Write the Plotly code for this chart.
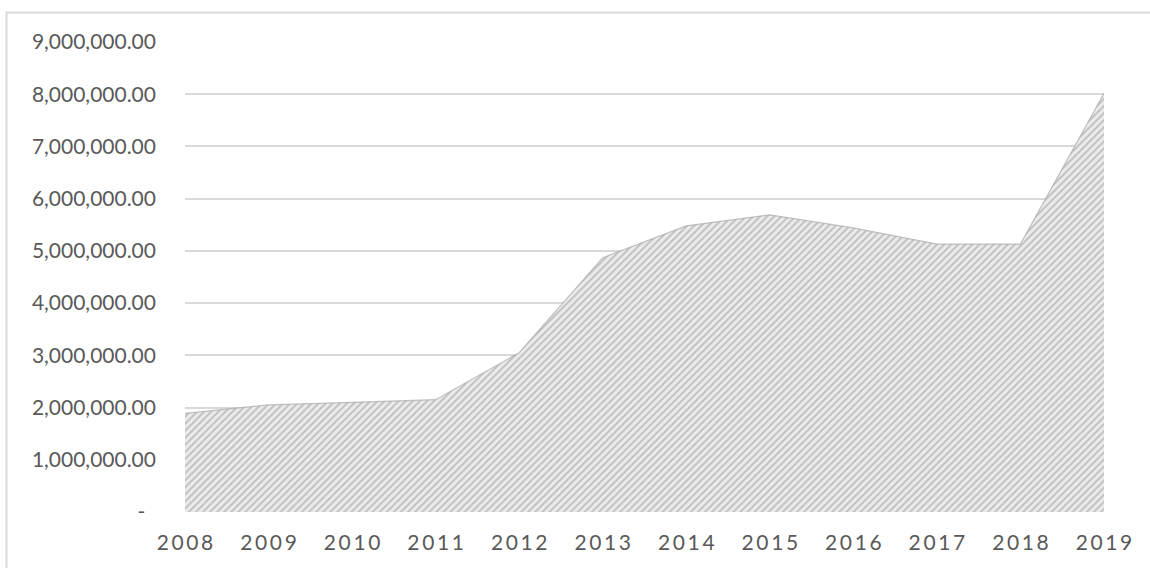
import plotly.graph_objects as go

years = [2008, 2009, 2010, 2011, 2012, 2013, 2014, 2015, 2016, 2017, 2018, 2019]
values = [1890000, 2050000, 2100000, 2150000, 3050000, 4870000, 5480000, 5690000, 5440000, 5130000, 5130000, 8020000]
y_ticks = [0, 1000000, 2000000, 3000000, 4000000, 5000000, 6000000, 7000000, 8000000, 9000000]

y_text = ["-\u00a0\u00a0" if v == 0 else f"{v:,.2f}" for v in y_ticks]
x_text = ["\u2009".join(str(y)) for y in years]

W, H = 1150, 568
L, R, T, B = 185, 46, 42, 56
pw, ph = W - L - R, H - T - B

fig = go.Figure()
fig.add_trace(go.Scatter(
    x=years, y=values, mode="lines", fill="tozeroy",
    line=dict(color="rgba(170,170,170,0.7)", width=1.2),
    fillcolor="#ededed",
    fillpattern=dict(shape="/", bgcolor="#ebebeb", fgcolor="#939393", size=5, solidity=0.38),
    hoverinfo="skip",
))

font = dict(family="Lato, 'Open Sans', sans-serif", size=21, color="#595959")

fig.update_layout(
    width=W, height=H,
    margin=dict(l=L, r=R, t=T, b=B),
    paper_bgcolor="white", plot_bgcolor="white",
    showlegend=False,
    font=font,
    xaxis=dict(
        range=[2008, 2019], tickvals=years, ticktext=x_text,
        showgrid=False, zeroline=False, showline=False,
        ticks="", tickfont=font, ticklabelstandoff=16,
    ),
    yaxis=dict(
        range=[0, 9000000], tickvals=y_ticks, ticktext=y_text,
        showgrid=True, gridcolor="#d9d9d9", gridwidth=1.5,
        zeroline=False, showline=False, ticks="",
        tickfont=font, ticklabelstandoff=28,
    ),
)

# outer chart border (light gray frame)
bx = (6.5 - L) / pw
by = (H - B - 12.5) / ph
fig.add_shape(type="rect", xref="paper", yref="paper",
              x0=bx, y0=-0.5, x1=1.5, y1=by,
              line=dict(color="#d9d9d9", width=2), fillcolor="rgba(0,0,0,0)", layer="below")

fig.write_html("out.html")
